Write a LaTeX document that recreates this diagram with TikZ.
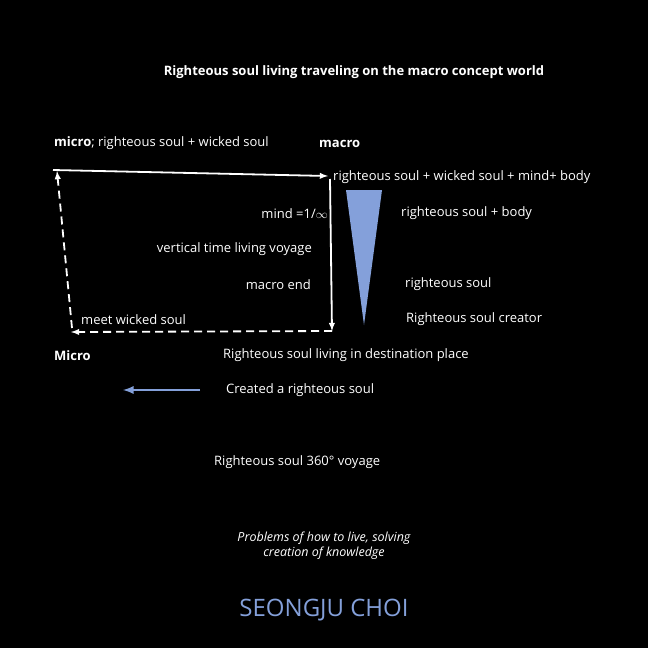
\documentclass[tikz,border=0pt]{standalone}
\usepackage{fontspec}
\setmainfont{Open Sans}
\usetikzlibrary{arrows}
\usetikzlibrary{positioning}
\definecolor{soulblue}{RGB}{132,160,218}
\begin{document}
\begin{tikzpicture}[x=1pt,y=-1pt,
    txt/.style={text=white,font=\fontsize{13}{15}\selectfont,inner sep=0pt,yshift=-1.5pt},
    path/.style={draw=white,line width=1.8pt,-latex},
    dpath/.style={path,dash pattern=on 8pt off 5pt}]

  \fill[black] (0,0) rectangle (648,648);
  \useasboundingbox (0,0) rectangle (648,648);

  \node [txt,font=\bfseries\fontsize{13}{15}\selectfont] (title) at (354,71) {Righteous soul living traveling on the macro concept world};

  \node [txt,anchor=west] (micro) at (54,142) {\textbf{micro}; righteous soul + wicked soul};
  \node [txt,anchor=west,font=\bfseries\fontsize{13}{15}\selectfont] (macro) at (319,142) {macro};
  \node [txt,anchor=west] (all) at (333,176) {righteous soul + wicked soul + mind+ body};
  \node [txt,anchor=east] (mind) at (328,212) {mind =1/$\infty$};
  \node [txt,anchor=west] (body) at (401,212) {righteous soul + body};
  \node [txt,anchor=east] (vert) at (312,248) {vertical time living voyage};
  \node [txt,anchor=east] (mend) at (311,283) {macro end};
  \node [txt,anchor=west] (rsoul) at (405,283) {righteous soul};
  \node [txt,anchor=west] (meet) at (81,318) {meet wicked soul};
  \node [txt,anchor=west] (creator) at (406,318) {Righteous soul creator};
  \node [txt,anchor=west,font=\bfseries\fontsize{13}{15}\selectfont] (Micro) at (54,354) {Micro};
  \node [txt,anchor=west] (dest) at (223,354) {Righteous soul living in destination place};
  \node [txt,anchor=west] (created) at (226,389) {Created a righteous soul};
  \node [txt,anchor=west] (voyage) at (214,461) {Righteous soul 360\textdegree{} voyage};
  \node [txt,align=center,font=\itshape\fontsize{12.5}{15}\selectfont] (problems) at (324,544) {Problems of how to live, solving\\creation of knowledge};
  \node [text=soulblue,font=\fontsize{24}{28}\selectfont,inner sep=0pt] (author) at (324,610) {SEONGJU CHOI};

  % loop of the voyage
  \coordinate (tl) at (53,170);
  \coordinate (tr) at (328,176);
  \coordinate (br) at (332,331);
  \coordinate (bl) at (71,332);
  \path [path] (tl) -- (tr);
  \path [path] (330,179) -- (br);
  \path [dpath] (br) -- (bl);
  \path [dpath] (72,328) -- (57,171);

  % mind cone
  \fill [soulblue] (346,190) -- (382,190) -- (364,325) -- cycle;

  % creation arrow
  \coordinate (cstart) at (200,390);
  \coordinate (cend) at (123,390);
  \path [draw=soulblue,line width=2.6pt,-latex] (cstart) -- (cend);

\end{tikzpicture}
\end{document}
